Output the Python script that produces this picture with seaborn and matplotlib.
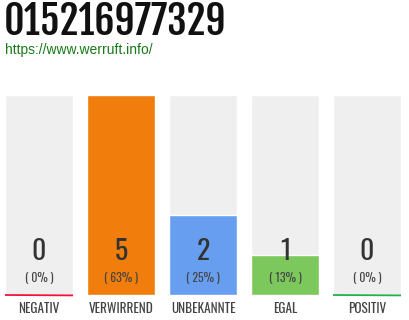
import matplotlib
matplotlib.use("Agg")
import matplotlib.pyplot as plt
import seaborn as sns
import pandas as pd

categories = ["NEGATIV", "VERWIRREND", "UNBEKANNTE", "EGAL", "POSITIV"]
counts = [0, 5, 2, 1, 0]
percents = ["( 0% )", "( 63% )", "( 25% )", "( 13% )", "( 0% )"]
bar_colors = ["#f0143c", "#f07d0c", "#679ef0", "#7cc85c", "#22b24a"]
title = "015216977329"
url = "https://www.werruft.info/"

sns.set_theme(style="white")
plt.rcParams["font.family"] = ["Oswald", "DejaVu Sans"]

fig = plt.figure(figsize=(4.1, 3.2), dpi=100)
W, H = 410, 320
ax = fig.add_axes([5 / W, 25 / H, 396 / W, 200 / H])

ymax = max(counts)
df = pd.DataFrame({"cat": categories, "count": counts, "bg": [ymax] * len(counts)})

sns.barplot(data=df, x="cat", y="bg", color="#efefef", width=68 / 82, ax=ax,
            saturation=1, order=categories)
sns.barplot(data=df, x="cat", y="count", hue="cat", palette=bar_colors, width=68 / 82,
            ax=ax, saturation=1, order=categories, hue_order=categories, legend=False)

ax.set_xlim(-34 / 82 - 0.0001, 4 + 34 / 82)
ax.set_ylim(0, ymax)
for s in ax.spines.values():
    s.set_visible(False)
ax.set_yticks([])
ax.set_xlabel("")
ax.set_ylabel("")
ax.tick_params(axis="x", length=0, pad=5)
ax.set_xticks(range(len(categories)))
ax.set_xticklabels(categories, fontsize=9.5, color="#444444")

# baseline lines under negative and positive
for i in (0, 4):
    ax.plot([i - 34 / 82, i + 34 / 82], [0, -0.01], color=bar_colors[i], lw=1.3,
            solid_capstyle="butt", clip_on=False)

for i, (c, p) in enumerate(zip(counts, percents)):
    ax.text(i, 1.075, str(c), ha="center", va="center", fontsize=20,
            color="#333333")
    ax.text(i, 0.45, p, ha="center", va="center", fontsize=8.5,
            color="#444444")

fig.text(4 / W, 1 - 22 / H, title, ha="left", va="center", fontsize=28.5,
         color="#111111", family=["Fjalla One", "DejaVu Sans"])
fig.text(5 / W, 1 - 50 / H, url, ha="left", va="center", fontsize=10,
         color="#1a7a1a", family=["Liberation Sans", "DejaVu Sans"])

fig.savefig("out.png", dpi=100)
